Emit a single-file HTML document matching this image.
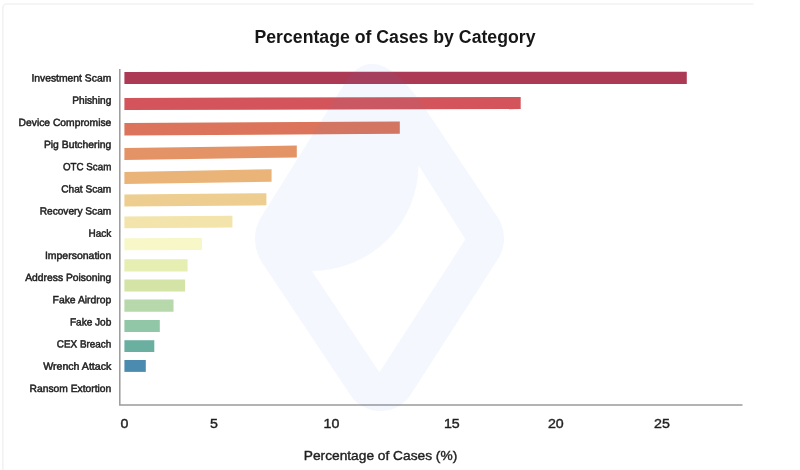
<!DOCTYPE html>
<html lang="en"><head><meta charset="utf-8"><title>Percentage of Cases by Category</title>
<style>
html,body{margin:0;padding:0;background:#fff;}
body{width:800px;height:470px;position:relative;overflow:hidden;font-family:"Liberation Sans",sans-serif;}
</style></head><body>
<svg width="800" height="470" viewBox="0 0 800 470" style="position:absolute;left:0;top:0">
<rect x="2.8" y="4" width="900" height="600" rx="4" fill="#fff" stroke="#f2f2f3" stroke-width="1.6"/>
<rect x="753.5" y="0" width="60" height="470" fill="#fff"/>
<polygon points="124.4,71.9 686.8,71.7 686.8,83.9 124.4,84.0" fill="#ad3a55"/>
<polygon points="124.4,97.9 520.7,96.9 520.7,109.1 124.4,110.0" fill="#d3555b"/>
<polygon points="124.4,123.0 399.8,121.5 399.8,133.8 124.4,135.4" fill="#db745a"/>
<polygon points="124.4,148.0 296.8,145.6 296.8,157.5 124.4,160.0" fill="#e49367"/>
<polygon points="124.4,172.0 271.6,169.3 271.6,181.7 124.4,183.9" fill="#eab479"/>
<polygon points="124.4,194.4 266.4,193.2 266.4,205.3 124.4,206.5" fill="#eece90"/>
<polygon points="124.4,216.4 232.4,215.8 232.4,227.6 124.4,228.3" fill="#f2e4aa"/>
<polygon points="124.4,238.3 202.0,238.0 202.0,249.9 124.4,250.2" fill="#f7f7c7"/>
<polygon points="124.4,259.2 187.6,259.2 187.6,271.5 124.4,271.5" fill="#e7eeb1"/>
<polygon points="124.4,279.4 185.1,279.4 185.1,291.5 124.4,291.5" fill="#d3e4a6"/>
<polygon points="124.4,299.6 173.5,299.6 173.5,311.7 124.4,311.7" fill="#b6d8aa"/>
<polygon points="124.4,320.0 159.8,320.0 159.8,332.1 124.4,332.1" fill="#91c7a6"/>
<polygon points="124.4,340.2 154.3,340.2 154.3,352.0 124.4,352.0" fill="#6bafa1"/>
<polygon points="124.4,360.0 145.8,360.0 145.8,371.9 124.4,371.9" fill="#4b8bb0"/>
<path d="M119.8 69 V404.9 H742.5" fill="none" stroke="#9a9a9a" stroke-width="1.5"/>
<path d="M344.00 84.40 Q374.70 32.60 426.20 110.00 L497.72 217.30 A38 38 0 0 1 498.05 258.92 L410.73 394.75 A36 36 0 0 1 350.50 395.25 L261.93 262.40 A42 42 0 0 1 261.11 217.08 Z M312 271 A106.5 106.5 0 0 0 418.6 165.5 L465.3 239.3 L379.4 372.3 Z" fill="#3c82f0" fill-opacity="0.06" fill-rule="evenodd"/>
<g font-family="'Liberation Sans', sans-serif" fill="#1f1f1f">
<text x="395" y="42.9" text-anchor="middle" font-size="19.2" font-weight="700" fill="#161616" textLength="281" lengthAdjust="spacingAndGlyphs">Percentage of Cases by Category</text>
<text x="111.3" y="81.60" transform="rotate(0.03 111.3 81.60)" text-anchor="end" font-size="10.4" stroke="#1f1f1f" stroke-width="0.5" textLength="79.9" lengthAdjust="spacingAndGlyphs">Investment Scam</text>
<text x="111.3" y="103.77" transform="rotate(0.03 111.3 103.77)" text-anchor="end" font-size="10.4" stroke="#1f1f1f" stroke-width="0.5" textLength="39.0" lengthAdjust="spacingAndGlyphs">Phishing</text>
<text x="111.3" y="125.94" transform="rotate(0.03 111.3 125.94)" text-anchor="end" font-size="10.4" stroke="#1f1f1f" stroke-width="0.5" textLength="92.7" lengthAdjust="spacingAndGlyphs">Device Compromise</text>
<text x="111.3" y="148.11" transform="rotate(0.03 111.3 148.11)" text-anchor="end" font-size="10.4" stroke="#1f1f1f" stroke-width="0.5" textLength="67.4" lengthAdjust="spacingAndGlyphs">Pig Butchering</text>
<text x="111.3" y="170.28" transform="rotate(0.03 111.3 170.28)" text-anchor="end" font-size="10.4" stroke="#1f1f1f" stroke-width="0.5" textLength="48.3" lengthAdjust="spacingAndGlyphs">OTC Scam</text>
<text x="111.3" y="192.45" transform="rotate(0.03 111.3 192.45)" text-anchor="end" font-size="10.4" stroke="#1f1f1f" stroke-width="0.5" textLength="50.1" lengthAdjust="spacingAndGlyphs">Chat Scam</text>
<text x="111.3" y="214.62" transform="rotate(0.03 111.3 214.62)" text-anchor="end" font-size="10.4" stroke="#1f1f1f" stroke-width="0.5" textLength="71.6" lengthAdjust="spacingAndGlyphs">Recovery Scam</text>
<text x="111.3" y="236.79" transform="rotate(0.03 111.3 236.79)" text-anchor="end" font-size="10.4" stroke="#1f1f1f" stroke-width="0.5" textLength="22.7" lengthAdjust="spacingAndGlyphs">Hack</text>
<text x="111.3" y="258.96" transform="rotate(0.03 111.3 258.96)" text-anchor="end" font-size="10.4" stroke="#1f1f1f" stroke-width="0.5" textLength="66.4" lengthAdjust="spacingAndGlyphs">Impersonation</text>
<text x="111.3" y="281.13" transform="rotate(0.03 111.3 281.13)" text-anchor="end" font-size="10.4" stroke="#1f1f1f" stroke-width="0.5" textLength="86.1" lengthAdjust="spacingAndGlyphs">Address Poisoning</text>
<text x="111.3" y="303.30" transform="rotate(0.03 111.3 303.30)" text-anchor="end" font-size="10.4" stroke="#1f1f1f" stroke-width="0.5" textLength="58.7" lengthAdjust="spacingAndGlyphs">Fake Airdrop</text>
<text x="111.3" y="325.47" transform="rotate(0.03 111.3 325.47)" text-anchor="end" font-size="10.4" stroke="#1f1f1f" stroke-width="0.5" textLength="41.4" lengthAdjust="spacingAndGlyphs">Fake Job</text>
<text x="111.3" y="347.64" transform="rotate(0.03 111.3 347.64)" text-anchor="end" font-size="10.4" stroke="#1f1f1f" stroke-width="0.5" textLength="54.5" lengthAdjust="spacingAndGlyphs">CEX Breach</text>
<text x="111.3" y="369.81" transform="rotate(0.03 111.3 369.81)" text-anchor="end" font-size="10.4" stroke="#1f1f1f" stroke-width="0.5" textLength="68.1" lengthAdjust="spacingAndGlyphs">Wrench Attack</text>
<text x="111.3" y="391.98" transform="rotate(0.03 111.3 391.98)" text-anchor="end" font-size="10.4" stroke="#1f1f1f" stroke-width="0.5" textLength="81.7" lengthAdjust="spacingAndGlyphs">Ransom Extortion</text>
<text x="124.5" y="428.4" text-anchor="middle" font-size="13.2" stroke="#1f1f1f" stroke-width="0.4" textLength="7.9" lengthAdjust="spacingAndGlyphs">0</text>
<text x="213.9" y="428.4" text-anchor="middle" font-size="13.2" stroke="#1f1f1f" stroke-width="0.4" textLength="7.9" lengthAdjust="spacingAndGlyphs">5</text>
<text x="331.5" y="428.4" text-anchor="middle" font-size="13.2" stroke="#1f1f1f" stroke-width="0.4" textLength="15.8" lengthAdjust="spacingAndGlyphs">10</text>
<text x="451.8" y="428.4" text-anchor="middle" font-size="13.2" stroke="#1f1f1f" stroke-width="0.4" textLength="15.8" lengthAdjust="spacingAndGlyphs">15</text>
<text x="555.8" y="428.4" text-anchor="middle" font-size="13.2" stroke="#1f1f1f" stroke-width="0.4" textLength="15.8" lengthAdjust="spacingAndGlyphs">20</text>
<text x="661.9" y="428.4" text-anchor="middle" font-size="13.2" stroke="#1f1f1f" stroke-width="0.4" textLength="15.8" lengthAdjust="spacingAndGlyphs">25</text>
<text x="380.5" y="460" text-anchor="middle" font-size="13.4" stroke="#1f1f1f" stroke-width="0.4" textLength="153.5" lengthAdjust="spacingAndGlyphs">Percentage of Cases (%)</text>
</g></svg>
</body></html>
